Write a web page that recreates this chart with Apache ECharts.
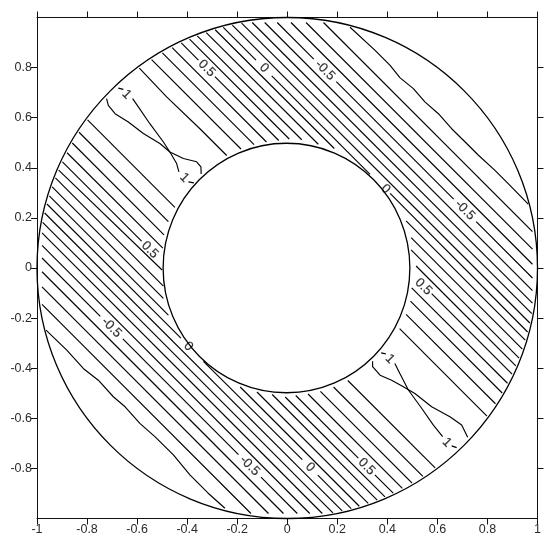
<!DOCTYPE html>
<html><head><meta charset="utf-8">
<style>html,body{margin:0;padding:0;background:#fff}#c{width:550px;height:545px}</style>
<script src="https://cdn.jsdelivr.net/npm/echarts@6/dist/echarts.min.js"></script>
</head><body><div id="c"></div>
<script>
const xTicks=[-1,-0.8,-0.6,-0.4,-0.2,0,0.2,0.4,0.6,0.8,1];
const yTicks=[-0.8,-0.6,-0.4,-0.2,0,0.2,0.4,0.6,0.8];
const circles=[[0,0,1,1],[-0.003,0,0.493,0.498]];
// contour level +0.9 .. +0.1 (upper-right side of centre)
const p9a=[[-.591,.798],[-.482,.683],[-.349,.556],[-.242,.449]];
const p9b=[[.449,-.242],[.798,-.591]];
const p8a=[[-.542,.832],[-.185,.475]];
const p8b=[[.475,-.185],[.832,-.542]];
const p7a=[[-.499,.859],[-.1325,.4925]];
const p7b=[[.4925,-.1325],[.859,-.499]];
const p6a=[[-.46,.88],[-.083,.503]];
const p6b=[[.497,-.079],[.88,-.46]];
const p5a=[[-.4235,.8985],[-.355,.83]];
const p5a2=[[-.289,.764],[-.034,.509]];
const p5b=[[.577,-.102],[.8985,-.4235]];
const p4a=[[-.3905,.9135],[.008,.515]];
const p4b=[[.515,.008],[.9135,-.3905]];
const p3a=[[-.3595,.9265],[.058,.512]];
const p3b=[[.495,.072],[.9265,-.3595]];
const p2a=[[-.3235,.9395],[.124,.494]];
const p2b=[[.495,.121],[.9395,-.3235]];
const p1a=[[-.288,.951],[.188,.477]];
const p1b=[[.475,.188],[.951,-.288]];
const z0a=[[-.2555,.9605],[-.125,.83]];
const z0b=[[-.062,.767],[.331,.374]];
const z0c=[[.411,.298],[.9605,-.2555]];
const n1=[[-.2195,.9695],[.9695,-.2195]];
const n2=[[-.1825,.9775],[.9775,-.1825]];
const n3=[[-.14,.98],[.98,-.14]];
const n4=[[-.09,.98],[.98,-.09]];
const n5a=[[-.04,.98],[.106,.834]];
const n5b=[[.196,.744],[.665,.275]];
const n5c=[[.755,.185],[.98,-.04]];
const n6=[[.015,.98],[.98,.015]];
const n7=[[.075,.98],[.98,.075]];
const n8=[[.145,.98],[.98,.145]];
const n9=[[.251,.961],[.351,.869],[.411,.809],[.45,.76],[.504,.716],[.55,.663],[.604,.616],[.657,.556],[.717,.497],[.764,.45],[.83,.39],[.883,.337],[.963,.255]];
// mirrored band (lower-left side of centre)
const q9a=[[-.798,.591],[-.449,.242]];
const q9b=[[.242,-.449],[.591,-.798]];
const q8a=[[-.832,.542],[-.475,.185]];
const q8b=[[.185,-.475],[.542,-.832]];
const q7a=[[-.859,.499],[-.4925,.1325]];
const q7b=[[.1325,-.4925],[.499,-.859]];
const q6a=[[-.88,.46],[-.497,.079]];
const q6b=[[.083,-.503],[.46,-.88]];
const q5a=[[-.8985,.4235],[-.582,.107]];
const q5b=[[.034,-.509],[.284,-.759]];
const q5b2=[[.35,-.826],[.4235,-.8985]];
const q4a=[[-.9135,.3905],[-.5,-.008]];
const q4b=[[-.008,-.515],[.3905,-.9135]];
const q3a=[[-.9265,.3595],[-.495,-.072]];
const q3b=[[-.06,-.505],[.3595,-.9265]];
const q2a=[[-.9395,.3235],[-.495,-.121]];
const q2b=[[-.121,-.495],[.3235,-.9395]];
const q1a=[[-.951,.288],[-.475,-.188]];
const q1b=[[-.188,-.475],[.288,-.951]];
const y0a=[[-.9605,.2555],[-.425,-.28]];
const y0b=[[-.335,-.373],[.06,-.765]];
const y0c=[[.122,-.827],[.2555,-.9605]];
const m1=[[-.9695,.2195],[.2195,-.9695]];
const m2=[[-.9775,.1825],[.1825,-.9775]];
const m3=[[-.98,.14],[.14,-.98]];
const m4=[[-.98,.09],[.09,-.98]];
const m5a=[[-.98,.04],[-.747,-.193]];
const m5b=[[-.657,-.283],[-.195,-.745]];
const m5c=[[-.105,-.835],[.04,-.98]];
const m6=[[-.98,-.015],[-.015,-.98]];
const m7=[[-.98,-.075],[-.075,-.98]];
const m8=[[-.98,-.145],[-.145,-.98]];
const m9=[[-.964,-.248],[-.881,-.328],[-.815,-.401],[-.755,-.448],[-.695,-.514],[-.648,-.554],[-.589,-.62],[-.529,-.673],[-.455,-.746],[-.389,-.826],[-.316,-.899],[-.249,-.959]];
// level 1 lenses
const lensA1=[[-.722,.676],[-.715,.649],[-.688,.616],[-.635,.583],[-.575,.537],[-.509,.497],[-.469,.463],[-.415,.437],[-.362,.424],[-.345,.404],[-.344,.375]];
const lensA2=[[-.618,.676],[-.595,.643],[-.549,.576],[-.495,.503],[-.469,.463],[-.442,.417],[-.433,.384]];
const lensA3=[[-.675,.718],[-.655,.713]];
const lensA4=[[-.395,.344],[-.373,.34]];
const lensB1=[[.341,-.372],[.341,-.394],[.371,-.428],[.417,-.448],[.464,-.474],[.51,-.501],[.577,-.554],[.65,-.594],[.697,-.627],[.721,-.676]];
const lensB2=[[.43,-.381],[.45,-.421],[.484,-.487],[.537,-.56],[.584,-.627],[.621,-.673]];
const lensB3=[[.375,-.339],[.394,-.343]];
const lensB4=[[.657,-.71],[.677,-.717]];
const contours=[p9a,p9b,p8a,p8b,p7a,p7b,p6a,p6b,p5a,p5a2,p5b,p4a,p4b,p3a,p3b,p2a,p2b,p1a,p1b,z0a,z0b,z0c,n1,n2,n3,n4,n5a,n5b,n5c,n6,n7,n8,n9,
 q9a,q9b,q8a,q8b,q7a,q7b,q6a,q6b,q5a,q5b,q5b2,q4a,q4b,q3a,q3b,q2a,q2b,q1a,q1b,y0a,y0b,y0c,m1,m2,m3,m4,m5a,m5b,m5c,m6,m7,m8,m9,
 lensA1,lensA2,lensA3,lensA4,lensB1,lensB2,lensB3,lensB4];
const labelTexts=['0.5','0','-0.5','0','-0.5','0.5','0.5','0','-0.5','-0.5','0','0.5','1','1','1','1'];
const labelPoints=[[-.322,.797],[-.093,.798],[.151,.789],[.393,.315],[.71,.231],[.544,-.075],[-.549,.072],[-.395,-.313],[-.702,-.238],[-.15,-.79],[.091,-.796],[.317,-.793],[-.642,.693],[-.411,.36],[.41,-.363],[.638,-.697]];

const tickColor='#2b2b2b', font='"Liberation Sans",Arial,sans-serif';
const fmt=v=>String(Math.round(v*10)/10);
const axisBase=(pos,ticks,showLabel)=>({type:'value',position:pos,min:-1,max:1,interval:0.2,
  splitLine:{show:false},axisLine:{show:true,onZero:false,lineStyle:{color:'#111',width:1}},
  axisTick:{show:true,length:6,inside:false,customValues:ticks,lineStyle:{color:'#111',width:1}},
  axisLabel:{show:showLabel,customValues:ticks,formatter:fmt,color:tickColor,fontFamily:font,fontSize:12.5,margin:5,hideOverlap:false}});
const series=contours.map(seg=>({type:'line',data:seg,showSymbol:false,symbol:'none',smooth:false,silent:true,clip:false,
  lineStyle:{color:'#000',width:1.15}}));
series.push({type:'custom',data:circles,clip:false,silent:true,
  renderItem:(p,api)=>{const c=api.coord([api.value(0),api.value(1)]);const s=api.size([api.value(2),api.value(3)]);
    return {type:'ellipse',shape:{cx:c[0],cy:c[1],rx:s[0],ry:s[1]},style:{fill:'none',stroke:'#000',lineWidth:1.3}};}});
series.push({type:'scatter',symbolSize:1,itemStyle:{color:'transparent'},silent:true,
  data:labelPoints.map((pt,i)=>({value:pt,name:labelTexts[i]})),
  label:{show:true,position:'inside',formatter:p=>p.name,rotate:-45,color:'#000',fontFamily:font,fontSize:13,textBorderColor:'#000',textBorderWidth:0.2}});
const chart=echarts.init(document.getElementById('c'),null,{renderer:'canvas'});
chart.setOption({animation:false,backgroundColor:'#fff',
  grid:{left:37,right:12.5,top:17.5,bottom:26.5,containLabel:false},
  xAxis:[axisBase('bottom',xTicks,true),axisBase('top',xTicks,false)],
  yAxis:[axisBase('left',yTicks,true),axisBase('right',yTicks,false)],
  series});
</script></body></html>
